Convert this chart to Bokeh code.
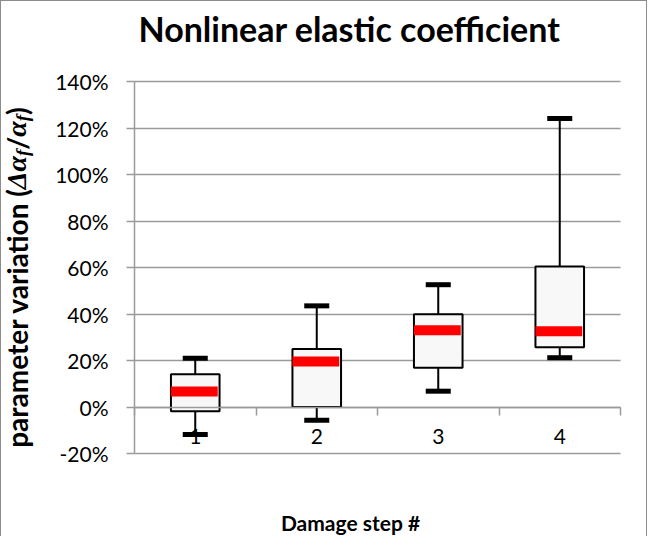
from bokeh.plotting import figure
from bokeh.models import Range1d, FixedTicker, NumeralTickFormatter, LinearAxis, Label, ColumnDataSource
from bokeh.transform import dodge
from bokeh.embed import file_html
from bokeh.resources import INLINE
from math import pi
import subprocess

# ---- data ----
steps = ["1", "2", "3", "4"]
whisker_low = [-0.118, -0.057, 0.068, 0.212]
q1 = [-0.018, 0.0, 0.169, 0.257]
median = [0.067, 0.196, 0.330, 0.326]
q3 = [0.141, 0.249, 0.399, 0.604]
whisker_high = [0.210, 0.435, 0.526, 1.241]
y_ticks = [-0.2, 0.0, 0.2, 0.4, 0.6, 0.8, 1.0, 1.2, 1.4]

title_text = "Nonlinear elastic coefficient"
x_label = "Damage step #"

xs = [i + 1 for i in range(len(steps))]
bounds = [i + 0.5 for i in range(len(steps) + 1)]
XMIN, XMAX = 0.5, len(steps) + 0.5
YMIN, YMAX = y_ticks[0], y_ticks[-1]

FONT = "Lato"
SERIF = "Liberation Serif"
GRID = "#9a9a9a"


def measure(text, family, style, size):
    """Approximate advance width in px of a text (layout helper)."""
    try:
        pat = family + (":bold" if "bold" in style else "") + (":italic" if "italic" in style else "")
        path = subprocess.run(["fc-match", "-f", "%{file}", pat], capture_output=True,
                              text=True, timeout=5).stdout.strip()
        from PIL import ImageFont
        f = ImageFont.truetype(path, size)
        return f.getlength(text)
    except Exception:
        return len(text) * 0.55 * size


# canvas size and the plot area inside it (canvas px)
CW, CH = 647, 536
PL, PR, PT, PB = 133, 619, 80, 452
PXU = (PR - PL) / (XMAX - XMIN)
PYU = (PB - PT) / (YMAX - YMIN)


def xd(cx):
    return XMIN + (cx - PL) / PXU


def yd(cy):
    return YMIN + (PB - cy) / PYU


p = figure(width=CW, height=CH,
           x_range=Range1d(xd(0), xd(CW)), y_range=Range1d(yd(CH), yd(0)),
           output_backend="svg", toolbar_location=None,
           min_border_left=0, min_border_right=0, min_border_top=0, min_border_bottom=0)
p.outline_line_color = None
p.background_fill_color = "white"
p.border_fill_color = "white"
p.styles = {"border-top": "1px solid #8c8c8c", "border-left": "1px solid #8c8c8c",
            "border-right": "1px solid #8c8c8c"}

xa = p.xaxis[0]
ya = p.yaxis[0]

# grid (horizontal lines only, limited to the plot area)
p.xgrid.visible = False
g = p.ygrid[0]
g.ticker = FixedTicker(ticks=y_ticks)
g.grid_line_color = GRID
g.grid_line_width = 1.5
if "cross_bounds" in g.properties():
    g.cross_bounds = (XMIN, XMAX)
else:
    g.visible = False
    p.segment(x0=[XMIN] * len(y_ticks), x1=[XMAX] * len(y_ticks), y0=y_ticks, y1=y_ticks,
              line_color=GRID, line_width=1.5, level="underlay")

# y axis at the left edge of the plot area
ya.fixed_location = XMIN
ya.bounds = (YMIN, YMAX)
ya.ticker = FixedTicker(ticks=y_ticks)
ya.formatter = NumeralTickFormatter(format="0%")
ya.axis_line_color = GRID
ya.axis_line_width = 1.5
ya.major_tick_line_color = GRID
ya.major_tick_line_width = 1.5
ya.major_tick_in = 0
ya.major_tick_out = 8
ya.minor_tick_line_color = None
ya.major_label_text_font = FONT
ya.major_label_text_font_size = "21px"
ya.major_label_text_color = "black"
ya.major_label_standoff = 18

# x axis line + boundary ticks at y = 0
xa.fixed_location = 0
xa.bounds = (XMIN, XMAX)
xa.ticker = FixedTicker(ticks=bounds)
xa.major_label_overrides = {b: "" for b in bounds}
xa.axis_line_color = GRID
xa.axis_line_width = 1.5
xa.major_tick_line_color = GRID
xa.major_tick_line_width = 1.5
xa.major_tick_in = 0
xa.major_tick_out = 8
xa.minor_tick_line_color = None

# category labels
xl = LinearAxis(fixed_location=0, ticker=FixedTicker(ticks=xs), bounds=(XMIN, XMAX),
                major_label_overrides={x: s for x, s in zip(xs, steps)},
                axis_line_color=None, major_tick_line_color=None, minor_tick_line_color=None,
                major_tick_in=0, major_tick_out=0,
                major_label_text_font=FONT, major_label_text_font_size="21px",
                major_label_text_color="black", major_label_standoff=22)
p.add_layout(xl, "below")

# boxes
src = ColumnDataSource(dict(x=xs, lo=whisker_low, q1=q1, med=median, q3=q3, hi=whisker_high))
p.segment(x0="x", y0="lo", x1="x", y1="hi", source=src, line_color="black", line_width=2)
p.vbar(x="x", bottom="q1", top="q3", width=0.4, source=src,
       fill_color="#f8f8f8", line_color="black", line_width=2)
p.rect(x=dodge("x", -0.0075), y="med", width=0.385, height=10, height_units="screen",
       source=src, fill_color="red", line_color=None)
p.rect(x="x", y="hi", width=0.206, height=5, height_units="screen", source=src,
       fill_color="black", line_color=None)
p.rect(x="x", y="lo", width=0.206, height=5, height_units="screen", source=src,
       fill_color="black", line_color=None)

# title and x label
p.add_layout(Label(x=xd(348), y=yd(27), text=title_text, text_font=FONT, text_font_size="34px",
                   text_font_style="bold", text_align="center", text_baseline="alphabetic",
                   text_color="black"))
p.add_layout(Label(x=xd(349), y=yd(521), text=x_label, text_font=FONT, text_font_size="21px",
                   text_font_style="bold", text_align="center", text_baseline="alphabetic",
                   text_color="black"))

# y label pieces (rotated, reading bottom to top)
YS, SS = 28, 19
pieces = [
    ("parameter variation (", FONT, YS, "bold", 0),
    ("\u0394\u03b1", SERIF, YS, "bold italic", 0),
    ("f", SERIF, SS, "bold italic", 6),
    ("/", FONT, YS, "bold", 0),
    ("\u03b1", SERIF, YS, "bold italic", 0),
    ("f", SERIF, SS, "bold italic", 6),
    (")", FONT, YS, "bold", 0),
]
widths = [measure(t, f, s, z) for t, f, z, s, _ in pieces]
total = sum(widths)
pos = 276 + total / 2   # canvas y of the start of the label (bottom)
for (txt, fnt, size, style, dx), w in zip(pieces, widths):
    p.add_layout(Label(x=xd(15 + dx), y=yd(pos), text=txt,
                       text_font=fnt, text_font_size=f"{size}px", text_font_style=style,
                       text_align="left", text_baseline="middle", angle=pi / 2,
                       text_color="black"))
    pos -= w

open("out.html", "w").write(file_html(p, INLINE))
